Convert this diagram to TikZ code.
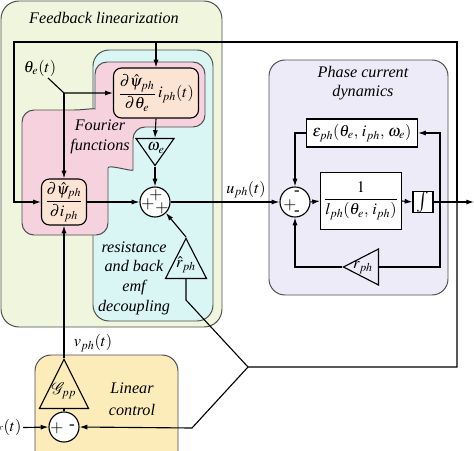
\documentclass[tikz,border=0pt]{standalone}
\usepackage{amsmath}
\usepackage{mathptmx}
\usepackage{mathrsfs}
\usepackage[no-math]{fontspec}
\setmainfont{Liberation Serif}
\usetikzlibrary{shapes.geometric,arrows.meta}

\begin{document}
\begin{tikzpicture}[x=0.25mm,y=-0.25mm,font=\fontsize{11.5}{14}\selectfont]
  \definecolor{fbgreen}{RGB}{239,246,221}
  \definecolor{emfcyan}{RGB}{217,245,244}
  \definecolor{fourpink}{RGB}{245,210,222}
  \definecolor{peach}{RGB}{251,228,212}
  \definecolor{phlav}{RGB}{238,235,248}
  \definecolor{linyel}{RGB}{251,236,186}

  \tikzset{
    region/.style={draw=black!70,line width=0.7pt},
    block/.style={draw,line width=0.8pt,fill=white,inner sep=1pt},
    peachblock/.style={block,rounded corners=2mm,fill=peach},
    sumnode/.style={circle,draw,fill=white,line width=0.8pt,minimum size=7.5mm,inner sep=0pt},
    gain/.style={isosceles triangle,isosceles triangle stretches,draw,line width=0.8pt,inner sep=0pt},
    sig/.style={inner sep=0pt,font=\fontsize{12}{12}\selectfont},
    conn/.style={line width=0.8pt},
    arr/.style={conn,-{Latex[length=5.5pt,width=3.6pt]}},
    itext/.style={font=\itshape\fontsize{11.5}{14}\selectfont,align=center}
  }

  \useasboundingbox (0,0) rectangle (474,451);

  % ---------------- regions ----------------
  \draw[region,fill=fbgreen,rounded corners=4.5mm] (1,1) rectangle (222,327);
  \draw[region,fill=emfcyan,rounded corners=4mm] (93,50) rectangle (213,321);
  \draw[region,fill=fourpink,rounded corners=3mm]
    (95,97) -- (95,62) -- (205,62) -- (205,127) -- (133,127) -- (133,158)
    .. controls (133,172) and (108,164) .. (108,180) -- (108,235) -- (22,235) -- (22,110) -- (62,110)
    .. controls (82,110) and (95,108) .. (95,97) -- cycle;
  \draw[region,fill=linyel,rounded corners=4mm] (35,355) rectangle (178,470);
  \draw[region,fill=phlav,rounded corners=4mm] (269,60) rectangle (448,295);

  \node[itext] (fbtitle) at (104,18) {Feedback linearization};
  \node[itext] (fourier) at (100,137) {Fourier\\functions};
  \node[itext] (decoup) at (134,278) {resistance\\and back\\emf\\decoupling};
  \node[itext] (lintxt) at (132,399) {Linear\\[2pt]control};
  \node[itext] (phtxt) at (363,83) {Phase current\\dynamics};

  % ---------------- feedback linearization ----------------
  \node[peachblock,minimum width=21.25mm,minimum height=12.5mm] (dpsith) at (156,93)
    {$\dfrac{\partial\hat{\psi}_{ph}}{\partial\theta_e}\,i_{ph}(t)$};
  \node[peachblock,minimum width=11.25mm,minimum height=11.5mm] (dpsii) at (64,202)
    {$\dfrac{\partial\hat{\psi}_{ph}}{\partial i_{ph}}$};
  \node[sumnode] (sum) at (155,202) {};
  \node[sig] (s1t) at (156,195) {$+$};
  \node[sig] (s1l) at (148,204) {$+$};
  \node[sig] (s1r) at (162,208) {$+$};
  \node[gain,shape border rotate=-90,minimum width=9.5mm,minimum height=6.75mm,anchor=apex] (we) at (155,167) {};
  \node (wel) at (156,148) {$\omega_e$};
  \node[gain,shape border rotate=90,minimum width=10.25mm,minimum height=10mm,anchor=apex] (rh) at (186,237) {};
  \node (rhl) at (186,265) {$\hat{r}_{ph}$};
  \node (theta) at (40,68) {$\theta_e(t)$};
  \node[anchor=south,inner sep=1pt] (uph) at (246,200) {$u_{ph}(t)$};

  % ---------------- linear control ----------------
  \node[gain,shape border rotate=90,minimum width=12.25mm,minimum height=12.25mm,anchor=apex] (gpp) at (64,358) {};
  \node (gppl) at (64,391) {$\mathscr{G}_{pp}$};
  \node[sumnode] (sum3) at (64,427) {};
  \node[sig] (s3l) at (57,428) {$+$};
  \node[sig] (s3r) at (72,427) {-};
  \node (vph) at (93,343) {$v_{ph}(t)$};
  \node[anchor=east,inner sep=1pt] (iref) at (23,428) {$i_{ref}(t)$};

  % ---------------- phase current dynamics ----------------
  \node[sumnode] (sum2) at (295,202) {};
  \node[sig] (s2l) at (290,205) {$+$};
  \node[sig] (s2t) at (297,193) {-};
  \node[sig] (s2b) at (297,213) {-};
  \node[block,minimum width=27.75mm,minimum height=7mm] (eps) at (362,133)
    {$\varepsilon_{ph}(\theta_e,\,i_{ph},\,\omega_e)$};
  \node[block,minimum width=20.25mm,minimum height=14.25mm] (lbox) at (361,201)
    {$\dfrac{1}{l_{ph}(\theta_e,\,i_{ph})}$};
  \node[block,minimum width=5mm,minimum height=4.5mm,inner sep=0pt,font=\fontsize{15}{15}\selectfont] (intb) at (423,202) {$\int$};
  \node[gain,shape border rotate=180,minimum width=9mm,minimum height=8.75mm,anchor=apex] (rph) at (342,267) {};
  \node (rphl) at (363,268) {$r_{ph}$};

  % ---------------- connectors ----------------
  \coordinate (j1) at (440,202);
  \coordinate (j2) at (457,202);
  \coordinate (yend) at (474,202);
  \coordinate (ftr) at (457,42);
  \coordinate (ftl) at (14,42);
  \coordinate (fbr) at (457,367);
  \coordinate (fdj) at (248,367);
  \coordinate (frj) at (186,300);
  \coordinate (flj) at (192,428);
  \coordinate (thst) at (48,78);
  \coordinate (thj) at (64,93);

  \draw[arr] (sum2.east) -- (lbox.west);
  \draw[arr] (lbox.east) -- (intb.west);
  \draw[arr] (intb.east) -- (yend);
  \draw[arr] (j1) |- (eps.east);
  \draw[conn] (j1) |- (rph.lower side);
  \draw[arr] (rph.apex) -| (sum2.south);
  \draw[arr] (eps.west) -| (sum2.north);

  % current feedback round the top
  \draw[arr] (j2) -- (ftr) -- (ftl) |- (dpsii.west);
  \draw[arr] (dpsith.north |- ftl) -- (dpsith.north);

  % rotor angle
  \draw[arr] (thst) -- (thj) -- (dpsith.west);
  \draw[arr] (thj) -- (dpsii.north);

  \draw[arr] (dpsii.east) -- (sum.west);
  \draw[arr] (dpsith.south) -- (we.lower side);
  \draw[arr] (we.apex) -- (sum.north);
  \draw[arr] (rh.apex) -- (sum.south east);
  \draw[arr] (sum.east) -- (sum2.west);

  % current to decoupling and linear control
  \draw[conn] (j2) -- (fbr) -- (fdj) -- (frj) -- (rh.lower side);
  \draw[arr] (fdj) -- (flj) -- (sum3.east);
  \draw[arr] (iref) -- (sum3.west);
  \draw[conn] (sum3.north) -- (gpp.lower side);
  \draw[arr] (gpp.apex) -- (dpsii.south);
\end{tikzpicture}
\end{document}
